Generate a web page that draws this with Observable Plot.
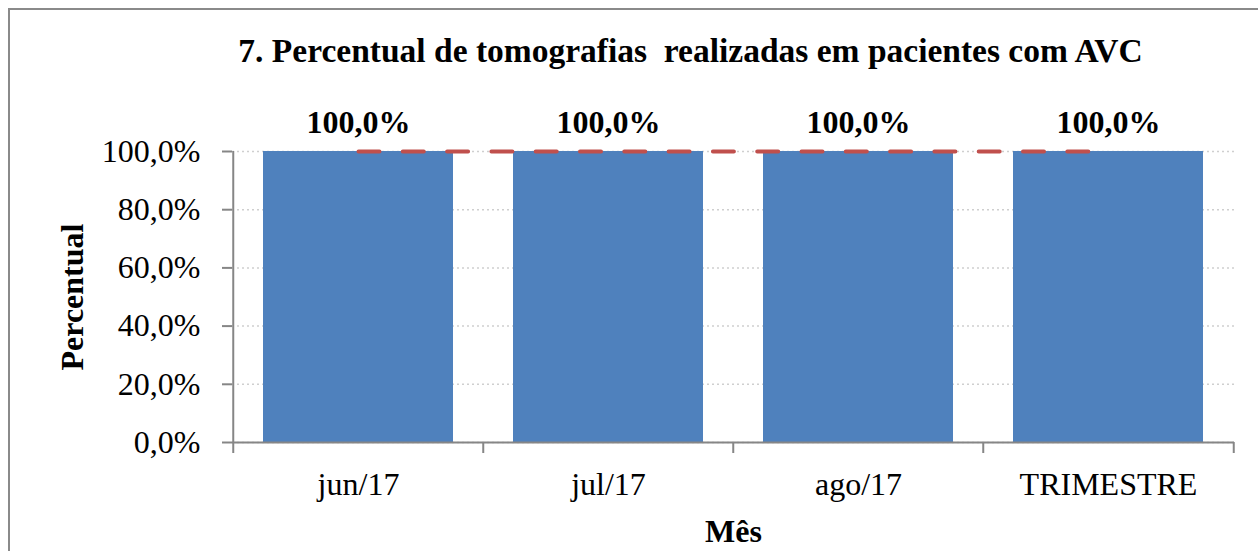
<!DOCTYPE html>
<html>
<head>
<meta charset="utf-8">
<script src="https://cdn.jsdelivr.net/npm/d3@7"></script>
<script src="https://cdn.jsdelivr.net/npm/@observablehq/plot@0.6"></script>
<style>
  html, body { margin: 0; padding: 0; background: #fff; }
  #wrap { position: relative; width: 1258px; height: 551px; overflow: hidden; }
  #border { position: absolute; left: 8px; top: 8px; right: -10px; bottom: -10px;
            border-top: 2px solid #8a8a8a; border-left: 2px solid #8a8a8a; pointer-events: none; }
  svg { display: block; }
</style>
</head>
<body>
<div id="wrap"><div id="border"></div></div>
<script>
const title = "7. Percentual de tomografias  realizadas em pacientes com AVC";
const categories = ["jun/17", "jul/17", "ago/17", "TRIMESTRE"];
const values = [100, 100, 100, 100];
const target = [100, 100, 100, 100];
const yTicks = [0, 20, 40, 60, 80, 100];
const yLabel = "Percentual";
const xLabel = "Mês";

const fmt = d => d.toFixed(1).replace(".", ",") + "%";
const data = categories.map((c, i) => ({cat: c, value: values[i], target: target[i]}));

const W = 1258, H = 551;
const mL = 232, mR = 24, mT = 151, mB = 109;
const step = (W - mL - mR) / categories.length;
const FONT = "'Liberation Serif', 'Times New Roman', Times, serif";
const gray = "#868686";

const chart = Plot.plot({
  width: W,
  height: H,
  marginLeft: mL,
  marginRight: mR,
  marginTop: mT,
  marginBottom: mB,
  style: {fontFamily: FONT, color: "black", background: "transparent", overflow: "visible"},
  x: {domain: categories, paddingInner: 0.24, paddingOuter: 0.12, label: null},
  y: {domain: [0, 100], label: null},
  marks: [
    Plot.gridY(yTicks, {stroke: "#cfcfcf", strokeOpacity: 1, strokeWidth: 1.5, strokeDasharray: "2,3"}),
    Plot.barY(data, {x: "cat", y: "value", fill: "#4F81BD"}),
    Plot.line(data, {x: "cat", y: "target", stroke: "#C0504D", strokeWidth: 4,
      strokeDasharray: "21,23.3", strokeLinecap: "round"}),
    Plot.text(data, {x: "cat", y: "value", text: d => fmt(d.value), dy: -19, lineAnchor: "bottom",
      fontWeight: "bold", fontSize: 32, fill: "black"}),
    Plot.axisY(yTicks, {tickSize: 10, tickPadding: 22, tickFormat: fmt, fontSize: 32,
      stroke: gray, strokeWidth: 2, fill: "black", label: null}),
    Plot.axisX({tickSize: 0, tickPadding: 30, fontSize: 32, fill: "black", label: null}),
    Plot.ruleY([0], {stroke: gray, strokeWidth: 2}),
    Plot.ruleX([categories[0]], {x: d => d, y1: 0, y2: 100, dx: -step / 2, stroke: gray, strokeWidth: 2}),
    Plot.ruleX(categories, {x: d => d, y1: 0, y2: 0, dx: -step / 2, insetBottom: -11, stroke: gray, strokeWidth: 2}),
    Plot.ruleX([categories[categories.length - 1]], {x: d => d, y1: 0, y2: 0, dx: step / 2, insetBottom: -11, stroke: gray, strokeWidth: 2}),
    Plot.text([yLabel], {frameAnchor: "left", text: d => d, rotate: -90, dx: -160, textAnchor: "middle",
      lineAnchor: "middle", fontWeight: "bold", fontSize: 32, fill: "black"}),
    Plot.text([xLabel], {frameAnchor: "bottom", text: d => d, dy: 99, lineAnchor: "bottom",
      fontWeight: "bold", fontSize: 32, fill: "black"}),
    Plot.text([title], {frameAnchor: "top", text: d => d, dy: -90, dx: -43, lineAnchor: "bottom",
      fontWeight: "bold", fontSize: 33.5, fill: "black"})
  ]
});
document.getElementById("wrap").prepend(chart);
</script>
</body>
</html>
